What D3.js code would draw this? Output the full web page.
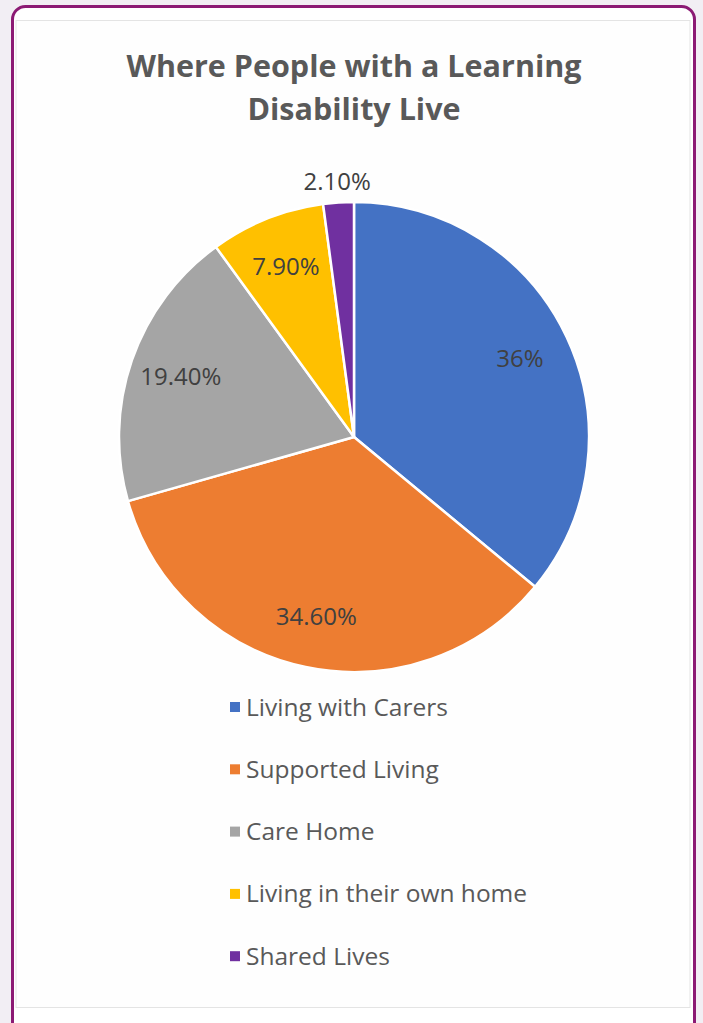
<!DOCTYPE html>
<html>
<head>
<meta charset="utf-8">
<script src="https://cdn.jsdelivr.net/npm/d3@7"></script>
<style>
  html, body { margin: 0; padding: 0; background: #f2eef4; }
  svg { display: block; }
</style>
</head>
<body>
<svg id="chart" width="703" height="1023"></svg>
<script>
// Living arrangements of people with a learning disability (share, %)
const categories = ["Living with Carers", "Supported Living", "Care Home", "Living in their own home", "Shared Lives"];
const values = [36, 34.6, 19.4, 7.9, 2.1];
const valueLabels = ["36%", "34.60%", "19.40%", "7.90%", "2.10%"];
const colors = ["#4472c4", "#ed7d31", "#a5a5a5", "#ffc000", "#7030a0"];
const titleLines = ["Where People with a Learning", "Disability Live"];

const W = 703, H = 1023;
const svg = d3.select("#chart");
const font = "'Open Sans', 'Noto Sans', sans-serif";

// card with purple rounded border
svg.append("rect")
  .attr("x", 12.5).attr("y", 6.5)
  .attr("width", 682).attr("height", 1030)
  .attr("rx", 13).attr("ry", 13)
  .attr("fill", "#ffffff")
  .attr("stroke", "#8c1a74").attr("stroke-width", 3);

// inner chart-area frame lines
svg.append("rect")
  .attr("x", 16).attr("y", 20.5)
  .attr("width", 674).attr("height", 987)
  .attr("fill", "#fefefe")
  .attr("stroke", "#e4e4e4").attr("stroke-width", 1);

// title
svg.append("text")
  .attr("x", 354).attr("y", 77)
  .attr("text-anchor", "middle")
  .attr("font-family", font).attr("font-weight", 700)
  .attr("font-size", 30.5).attr("fill", "#595959")
  .selectAll("tspan").data(titleLines).join("tspan")
  .attr("x", 354).attr("dy", (d, i) => i === 0 ? 0 : 43)
  .text(d => d);

// pie
const cx = 354, cy = 437, r = 235;
const pie = d3.pie().sort(null).value(d => d.v);
const data = categories.map((c, i) => ({ c, v: values[i], label: valueLabels[i], color: colors[i] }));
const arcs = pie(data);
const arc = d3.arc().innerRadius(0).outerRadius(r);
const labelArc = d3.arc().innerRadius(r * 0.78).outerRadius(r * 0.78);
const outerLabelArc = d3.arc().innerRadius(r * 1.09).outerRadius(r * 1.09);

const g = svg.append("g").attr("transform", `translate(${cx},${cy})`);
g.selectAll("path").data(arcs).join("path")
  .attr("d", arc)
  .attr("fill", d => d.data.color)
  .attr("stroke", "#ffffff").attr("stroke-width", 2.5)
  .attr("stroke-linejoin", "round");

g.selectAll("text.val").data(arcs).join("text")
  .attr("class", "val")
  .attr("transform", d => {
    const small = (d.endAngle - d.startAngle) < 0.2;
    const p = (small ? outerLabelArc : labelArc).centroid(d);
    return `translate(${p[0]},${p[1]})`;
  })
  .attr("text-anchor", "middle")
  .attr("dy", "0.35em")
  .attr("font-family", font).attr("font-size", 24)
  .attr("fill", "#404040")
  .text(d => d.data.label);

// legend
const legend = svg.append("g").attr("transform", "translate(230,707)");
const rows = legend.selectAll("g").data(data).join("g")
  .attr("transform", (d, i) => `translate(0,${i * 62.3})`);
rows.append("rect")
  .attr("x", 0).attr("y", -5).attr("width", 10).attr("height", 10)
  .attr("fill", d => d.color);
rows.append("text")
  .attr("x", 16).attr("dy", "0.35em")
  .attr("font-family", font).attr("font-size", 24.5)
  .attr("fill", "#595959")
  .text(d => d.c);
</script>
</body>
</html>
